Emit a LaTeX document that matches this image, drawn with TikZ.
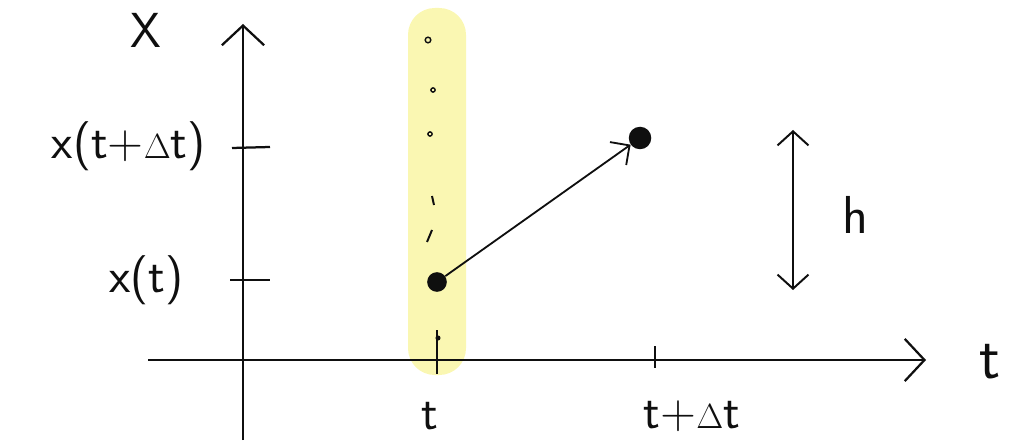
\documentclass[tikz,border=0pt]{standalone}
\usepackage{amsmath}
\usepackage{tikz}
\usepackage{xcolor}
\usetikzlibrary{arrows.meta,positioning,calc}
\definecolor{bandYellow}{RGB}{250,247,178}
\definecolor{inkBlack}{RGB}{15,15,15}

\begin{document}
\begin{tikzpicture}[
    x=0.025cm, y=-0.025cm,
    axis/.style={draw=inkBlack, line width=1.6pt, -{Straight Barb[length=14pt, width=30pt, line width=1.6pt]}},
    arrow/.style={draw=inkBlack, line width=1.3pt, -{Straight Barb[length=10pt, width=20pt, line width=1.3pt]}},
    harrow/.style={draw=inkBlack, line width=1.4pt, {Straight Barb[length=10pt, width=22pt, line width=1.4pt]}-{Straight Barb[length=10pt, width=22pt, line width=1.4pt]}},
    tick/.style={draw=inkBlack, line width=1.6pt},
    dot/.style={circle, fill=inkBlack, inner sep=0pt, minimum size=#1},
    dot/.default=14pt,
    smalldot/.style={circle, draw=inkBlack, line width=1pt, inner sep=0pt, minimum size=4pt},
    lbl/.style={font=\sffamily\fontsize{35}{40}\selectfont, text=inkBlack, inner sep=0pt}
]
    \useasboundingbox (0,0) rectangle (1031,445);

    % highlighted column at t
    \fill[bandYellow, rounded corners=19pt] (408,8) rectangle (466,375);

    % axes
    \coordinate (xstart) at (148,360);
    \coordinate (xend) at (926,360);
    \coordinate (ystart) at (243,440);
    \coordinate (yend) at (243,24);
    \draw[axis] (xstart) -- (xend);
    \draw[axis] (ystart) -- (yend);
    \node[lbl] (xlbl) at (146,30) {X};
    \node[lbl, font=\sffamily\fontsize{44}{48}\selectfont] (tlbl) at (990,362) {t};

    % ticks
    \draw[tick] (232,148) -- (270,147);
    \draw[tick] (230,280) -- (270,280);
    \draw[tick] (437,330) -- (437,374);
    \draw[tick] (655,346) -- (655,368);
    \node[lbl, anchor=east] (xtdt) at (206,146) {x(t+$\Delta$t)};
    \node[lbl, anchor=east] (xt) at (184,280) {x(t)};
    \node[lbl] (tb) at (430,416) {t};
    \node[lbl] (tdt) at (692,416) {t+$\Delta$t};

    % samples in the column
    \node[smalldot] (s1) at (428,40) {};
    \node[smalldot, minimum size=3pt] (s2) at (433,90) {};
    \node[smalldot, minimum size=3pt] (s3) at (430,134) {};
    \draw[line width=1.4pt, inkBlack] (432,196) -- (434,205);
    \draw[line width=1.4pt, inkBlack] (432,230) -- (427,242);
    \fill[inkBlack] (438,338) circle (1.8pt);

    % step of the path
    \node[dot] (p0) at (437,282) {};
    \node[dot=16pt] (p1) at (640,138) {};
    \draw[arrow] (p0) -- (p1);

    % increment h
    \coordinate (htop) at (793,130);
    \coordinate (hbot) at (793,290);
    \draw[harrow] (hbot) -- (htop);
    \node[lbl, font=\sffamily\fontsize{38}{42}\selectfont] (hlbl) at (855,215) {h};
\end{tikzpicture}
\end{document}
